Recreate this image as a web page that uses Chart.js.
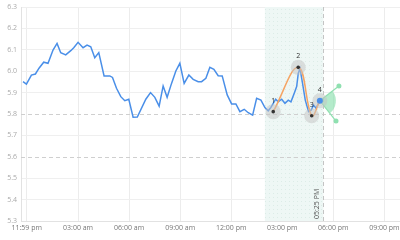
<!DOCTYPE html>
<html><head><meta charset="utf-8">
<script src="https://cdn.jsdelivr.net/npm/chart.js@4"></script>
<style>html,body{margin:0;padding:0;background:#fff;overflow:hidden}#w{width:400px;height:240px;position:relative}canvas{display:block}</style>
</head><body><div id="w"><canvas id="c"></canvas></div>
<script>
// ---- data (hours from midnight, price) ----
const priceHours = [-0.235,-0.035,0.259,0.494,0.706,0.982,1.235,1.529,1.765,1.982,2.276,2.571,2.747,3.0,3.294,3.529,3.747,3.982,4.218,4.529,4.865,5.024,5.259,5.512,5.747,5.982,6.235,6.482,6.982,7.259,7.512,7.765,8.0,8.235,8.494,8.747,8.982,9.235,9.512,9.765,10.059,10.259,10.512,10.747,10.982,11.235,11.471,11.765,12.024,12.276,12.512,12.765,13.0,13.259,13.494,13.747,13.982,14.176,14.335,14.471,14.612,14.765,14.965,15.159,15.353,15.512,15.706,15.847,15.941,16.041,16.176,16.353,16.547,16.706,16.841,16.982,17.135,17.253];
const priceValues = [5.951,5.940,5.982,5.987,6.014,6.042,6.037,6.099,6.130,6.086,6.076,6.096,6.110,6.135,6.110,6.122,6.114,6.063,6.087,5.978,5.978,5.971,5.920,5.881,5.862,5.869,5.785,5.786,5.869,5.900,5.878,5.837,5.931,5.878,5.943,6.001,6.037,5.943,5.982,5.962,5.951,5.951,5.967,6.018,6.009,5.979,5.978,5.889,5.847,5.847,5.811,5.822,5.806,5.795,5.873,5.865,5.830,5.815,5.831,5.850,5.869,5.857,5.869,5.850,5.865,5.857,5.897,5.928,5.990,6.013,5.951,5.865,5.811,5.819,5.842,5.827,5.850,5.862];
const waveLabels = ['1','2','3','4'];
const waveHours = [14.47,15.94,16.73,17.21];
const waveValues = [5.811,6.018,5.792,5.862];
const fanEndHours = [18.33,18.16];
const fanEndValues = [5.931,5.767];
const bandStart = 13.98;
const bandEnd = 17.4167;
const bandLabel = '05:25 PM';
const dashedLevels = [5.8,5.6];
const xTickValues = [-1/60,3,6,9,12,15,18,21];
const xTickLabels = ['11:59 pm','03:00 am','06:00 am','09:00 am','12:00 pm','03:00 pm','06:00 pm','09:00 pm'];

Chart.defaults.font.family = "'Open Sans', sans-serif";
Chart.defaults.font.size = 7;

function pts(xs, ys){ return xs.map((x,i)=>({x:x,y:ys[i]})); }

// dotted pattern for band
const pc = document.createElement('canvas'); pc.width=4; pc.height=4;
const pctx = pc.getContext('2d');
pctx.fillStyle='#eef7f5'; pctx.fillRect(0,0,4,4);
pctx.fillStyle='#dcece7'; pctx.fillRect(1,1,1,1);

const deco = {
  id:'deco',
  beforeDatasetsDraw(chart){
    const {ctx, chartArea:a, scales:{x,y}} = chart;
    ctx.save();
    const x0 = x.getPixelForValue(bandStart), x1 = x.getPixelForValue(bandEnd);
    ctx.fillStyle = ctx.createPattern(pc,'repeat');
    ctx.fillRect(x0, a.top, x1-x0, a.bottom-a.top);
    ctx.strokeStyle='#cfcfcf'; ctx.lineWidth=1; ctx.setLineDash([4,3]);
    dashedLevels.forEach(v=>{
      const py = Math.round(y.getPixelForValue(v))+0.5;
      ctx.beginPath(); ctx.moveTo(a.left,py); ctx.lineTo(a.right,py); ctx.stroke();
    });
    ctx.strokeStyle='#c4c4c4';
    const vx = Math.round(x1)+0.5;
    ctx.beginPath(); ctx.moveTo(vx,a.top); ctx.lineTo(vx,a.bottom); ctx.stroke();
    ctx.setLineDash([]);
    // label
    ctx.save();
    ctx.translate(x1-6, a.bottom-2);
    ctx.rotate(-Math.PI/2);
    ctx.fillStyle='#555'; ctx.font="7px 'Open Sans', sans-serif";
    ctx.textAlign='left'; ctx.textBaseline='middle';
    ctx.fillText(bandLabel,0,0);
    ctx.restore();
    // fan wedge
    const cx = x.getPixelForValue(waveHours[3]), cy = y.getPixelForValue(waveValues[3]);
    const ang = fanEndHours.map((h,i)=>Math.atan2(y.getPixelForValue(fanEndValues[i])-cy, x.getPixelForValue(h)-cx));
    ctx.fillStyle='rgba(140,225,175,0.65)';
    ctx.beginPath(); ctx.moveTo(cx,cy); ctx.arc(cx,cy,16,ang[0],ang[1]); ctx.closePath(); ctx.fill();
    ctx.restore();
  },
  afterDatasetsDraw(chart){
    const {ctx, scales:{x,y}} = chart;
    ctx.save();
    ctx.fillStyle='#333'; ctx.font="7px 'Open Sans', sans-serif";
    ctx.textAlign='center'; ctx.textBaseline='middle';
    waveLabels.forEach((t,i)=>{
      ctx.fillText(t, x.getPixelForValue(waveHours[i]), y.getPixelForValue(waveValues[i])-11);
    });
    ctx.restore();
  }
};

new Chart(document.getElementById('c'), {
  type:'scatter',
  data:{datasets:[
    {data:pts(waveHours,waveValues), showLine:false,
     pointRadius:[1.8,1.8,1.8,3], pointBackgroundColor:['#333','#333','#333','#4a8fe8'], pointBorderWidth:0},
    {data:pts(waveHours,waveValues), showLine:false,
     pointRadius:7.5, pointBackgroundColor:'rgba(195,195,195,0.5)', pointBorderWidth:0},
    {data:pts(waveHours,waveValues), showLine:true, tension:0.4, borderColor:'#f5a464', borderWidth:1.5, pointRadius:0},
    {data:[{x:waveHours[3],y:waveValues[3]},{x:fanEndHours[0],y:fanEndValues[0]}], showLine:true,
     borderColor:'#8fe0b0', borderWidth:1.2, pointRadius:[0,2.5], pointBackgroundColor:'#8fe0b0', pointBorderWidth:0},
    {data:[{x:waveHours[3],y:waveValues[3]},{x:fanEndHours[1],y:fanEndValues[1]}], showLine:true,
     borderColor:'#8fe0b0', borderWidth:1.2, pointRadius:[0,2.5], pointBackgroundColor:'#8fe0b0', pointBorderWidth:0},
    {data:pts(priceHours,priceValues), showLine:true, tension:0, borderColor:'#4a8fe8', borderWidth:1.5, pointRadius:0}
  ]},
  options:{
    responsive:true, maintainAspectRatio:false, animation:false,
    layout:{autoPadding:false, padding:{top:7,right:0,left:0,bottom:0}},
    plugins:{legend:{display:false}, tooltip:{enabled:false}},
    scales:{
      x:{type:'linear', min:-0.353, max:21.92,
        afterBuildTicks(s){ s.ticks = xTickValues.map(v=>({value:v})); },
        afterFit(s){ s.height = 19; s.paddingLeft = 0; s.paddingRight = 0; },
        ticks:{autoSkip:false, maxRotation:0, padding:3, color:'#777', callback:(v,i)=>xTickLabels[i]},
        grid:{color:'#ececec', drawTicks:false},
        border:{color:'#e2e2e2'}
      },
      y:{min:5.3, max:6.3,
        afterFit(s){ s.width = 21; s.paddingTop = 0; s.paddingBottom = 0; },
        ticks:{stepSize:0.1, padding:4, color:'#aaa', callback:v=>v.toFixed(1)},
        grid:{drawTicks:false, color:c=>dashedLevels.some(d=>Math.abs(d-c.tick.value)<1e-6)?'rgba(0,0,0,0)':'#efefef'},
        border:{color:'#e2e2e2'}
      }
    }
  },
  plugins:[deco]
});
</script>
</body></html>
